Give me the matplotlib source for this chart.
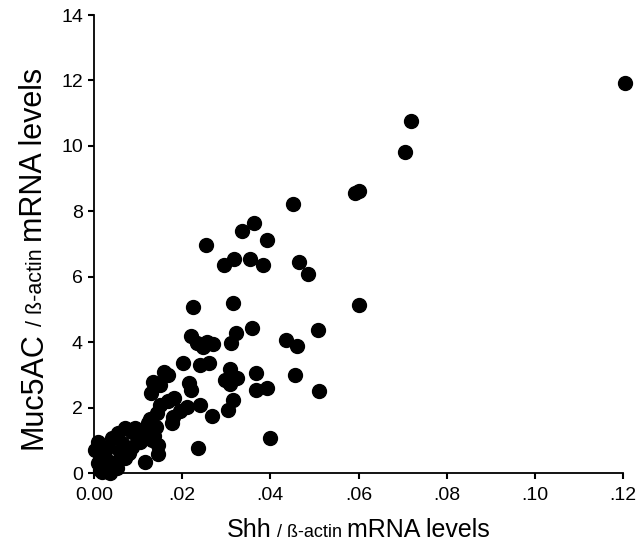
import numpy as np
import matplotlib
matplotlib.use("Agg")
import matplotlib.pyplot as plt

plt.rcParams['font.family'] = ['Liberation Sans', 'DejaVu Sans']

# Shh / b-actin vs Muc5AC / b-actin
shh = [0.1205, 0.0718, 0.0705, 0.0452, 0.0593, 0.0600, 0.0464, 0.0486, 0.0602, 0.0509,
       0.0461, 0.0455, 0.0511, 0.0436, 0.0364, 0.0336, 0.0255, 0.0393, 0.0295, 0.0318,
       0.0355, 0.0384, 0.0316, 0.0359, 0.0323, 0.0311, 0.0257, 0.0270, 0.0248, 0.0261,
       0.0241, 0.0309, 0.0298, 0.0314, 0.0325, 0.0309, 0.0368, 0.0368, 0.0393, 0.0316,
       0.0305, 0.0268, 0.0241, 0.0400, 0.0236, 0.0225, 0.0220, 0.0234, 0.0202, 0.0159,
       0.0168, 0.0134, 0.0150, 0.0130, 0.0216, 0.0220, 0.0182, 0.0168, 0.0150, 0.0211,
       0.0195, 0.0180, 0.0143, 0.0127, 0.0177, 0.0141, 0.0070, 0.0093, 0.0116, 0.0136,
       0.0009, 0.0055, 0.0086, 0.0100, 0.0123, 0.0105, 0.0086, 0.0132, 0.0145, 0.0145,
       0.0116, 0.0041, 0.0059, 0.0070, 0.0025, 0.0009, 0.0018, 0.0036, 0.0052, 0.0080,
       0.0014, 0.0032, 0.0002, 0.0043, 0.0064, 0.0020]
muc = [11.93, 10.76, 9.82, 8.23, 8.56, 8.62, 6.45, 6.09, 5.14, 4.37,
       3.88, 3.00, 2.51, 4.07, 7.65, 7.40, 6.97, 7.13, 6.36, 6.54,
       6.54, 6.36, 5.20, 4.43, 4.28, 3.98, 4.01, 3.94, 3.85, 3.36,
       3.30, 3.18, 2.84, 2.91, 2.91, 2.72, 3.06, 2.54, 2.60, 2.23,
       1.93, 1.74, 2.08, 1.07, 0.76, 5.08, 4.19, 3.98, 3.36, 3.09,
       3.00, 2.78, 2.69, 2.45, 2.75, 2.54, 2.29, 2.20, 2.08, 2.02,
       1.90, 1.71, 1.83, 1.65, 1.53, 1.41, 1.38, 1.38, 1.25, 1.13,
       0.95, 1.22, 1.25, 1.16, 1.53, 0.95, 0.80, 1.01, 0.86, 0.58,
       0.34, 1.07, 0.64, 0.46, 0.49, 0.31, 0.03, 0.00, 0.15, 0.61,
       0.09, 0.80, 0.70, 0.31, 0.92, 0.24]

xticks = [0.00, 0.02, 0.04, 0.06, 0.08, 0.10, 0.12]
xticklabels = ['0.00', '.02', '.04', '.06', '.08', '.10', '.12']
yticks = [0, 2, 4, 6, 8, 10, 12, 14]

W, H = 639, 542
fig = plt.figure(figsize=(W / 100, H / 100), dpi=100)
ax = fig.add_axes([94 / W, 1 - 473 / H, (623 - 94) / W, (473 - 15) / H])

ax.plot(shh, muc, 'o', color='black', markersize=10, clip_on=False)

ax.set_xlim(0, 0.12)
ax.set_ylim(0, 14)
ax.set_xticks(xticks)
ax.set_xticklabels(xticklabels)
ax.set_yticks(yticks)
ax.tick_params(labelsize=14, length=4, width=1.5, direction='out', pad=4)
ax.tick_params(axis='x', pad=6)
for side in ['top', 'right']:
    ax.spines[side].set_visible(False)
for side in ['left', 'bottom']:
    ax.spines[side].set_linewidth(1.3)

# axis titles with a smaller middle part
xparts = [('Shh', 18), (' / ß-actin ', 13), ('mRNA levels', 18)]
yparts = [('Muc5AC', 22), (' / ß-actin ', 15.5), ('mRNA levels', 22)]

fig.canvas.draw()
r = fig.canvas.get_renderer()


def widths(parts):
    out = []
    for s, size in parts:
        t = fig.text(0, 0, s, fontsize=size)
        out.append(t.get_window_extent(r).width)
        t.remove()
    return out


# x title, centred under the axes, baseline near the bottom edge
wx = widths(xparts)
x0 = (94 + 623) / 2 - sum(wx) / 2
for (s, size), w in zip(xparts, wx):
    fig.text(x0 / W, 5 / H, s, fontsize=size, ha='left', va='baseline')
    x0 += w

# y title, rotated, reading upwards from the bottom
wy = widths(yparts)
y0 = H - (62 + 455) / 2 - sum(wy) / 2
for (s, size), w in zip(yparts, wy):
    fig.text(42 / W, y0 / H, s, fontsize=size, rotation=90,
             rotation_mode='anchor', ha='left', va='baseline')
    y0 += w

fig.savefig('out.png', dpi=100)
